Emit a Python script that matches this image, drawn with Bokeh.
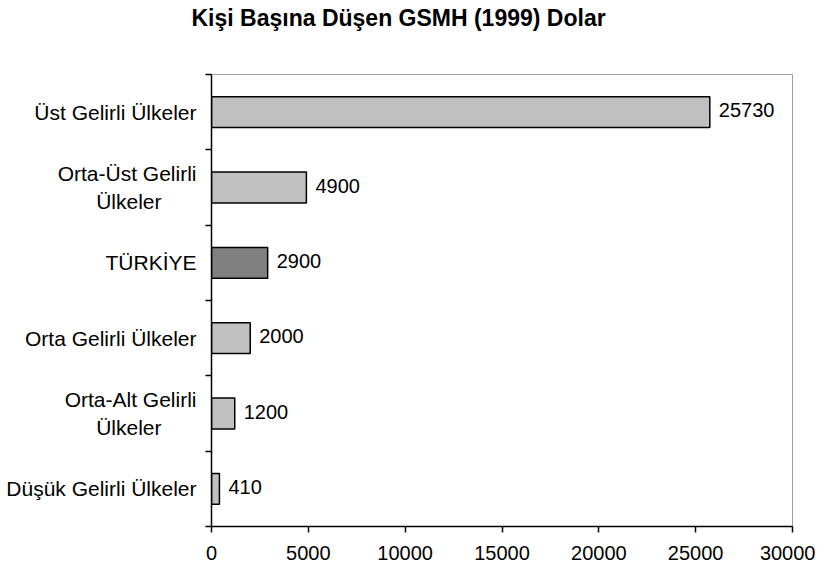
from bokeh.plotting import figure
from bokeh.models import Range1d, FixedTicker, ColumnDataSource, Title
from bokeh.core.properties import value
from bokeh.embed import file_html
from bokeh.resources import INLINE

categories = ["Üst Gelirli Ülkeler", "Orta-Üst Gelirli\nÜlkeler", "TÜRKİYE",
              "Orta Gelirli Ülkeler", "Orta-Alt Gelirli\nÜlkeler", "Düşük Gelirli Ülkeler"]
values = [25730, 4900, 2900, 2000, 1200, 410]
highlight = "TÜRKİYE"
x_ticks = [0, 5000, 10000, 15000, 20000, 25000, 30000]
x_max = 30000
title_text = "Kişi Başına Düşen GSMH (1999) Dolar"

FONT = "Liberation Sans"
NBSP_PAD = "\u00a0" * 6  # centres the short second line under the first


def display_label(c):
    # multi-line labels: centre the second line under the first
    if "\n" in c:
        return c + NBSP_PAD
    return c


n = len(categories)
ypos = [n - i - 0.5 for i in range(n)]
colors = ["#808080" if c == highlight else "#c0c0c0" for c in categories]
src = ColumnDataSource(dict(y=ypos, v=values, c=colors, lbl=[str(v) for v in values]))

p = figure(frame_width=581, frame_height=452,
           min_border_left=211, min_border_right=23, min_border_top=74, min_border_bottom=37,
           x_range=Range1d(0, x_max), y_range=Range1d(0, n),
           output_backend="svg", toolbar_location=None)

p.title = Title(text=title_text, align="left", offset=-20, standoff=0,
                text_font=FONT, text_font_size="23px", text_font_style="bold",
                text_color="black")
# empty spacer between the frame and the title
p.add_layout(Title(text=" ", text_font_size="1px", standoff=41), "above")

p.hbar(y="y", right="v", left=0, height=0.41, fill_color="c", line_color="black",
       line_width=1.5, source=src)
p.text(x="v", y="y", text="lbl", x_offset=9, y_offset=-2, text_baseline="middle", text_align="left",
       text_font=value(FONT), text_font_size="20px", text_color="black", source=src)

p.xgrid.visible = False
p.ygrid.visible = False
p.outline_line_color = "#a0a0a0"
p.outline_line_width = 1
p.background_fill_color = "white"
p.border_fill_color = "white"

xa = p.xaxis[0]
xa.ticker = FixedTicker(ticks=x_ticks)
xa.major_tick_in = 0
xa.major_tick_out = 6
xa.minor_tick_out = 0
xa.minor_tick_in = 0
xa.axis_line_color = "black"
xa.axis_line_width = 1.5
xa.major_tick_line_color = "black"
xa.major_tick_line_width = 1.5
xa.major_label_text_font = FONT
xa.major_label_text_font_size = "20px"
xa.major_label_text_color = "black"
xa.major_label_standoff = 13

ya = p.yaxis[0]
ya.ticker = FixedTicker(ticks=ypos, minor_ticks=list(range(n + 1)))
ya.major_label_overrides = {y: display_label(c) for y, c in zip(ypos, categories)}
ya.major_tick_in = 0
ya.major_tick_out = 0
ya.minor_tick_in = 0
ya.minor_tick_out = 6
ya.minor_tick_line_color = "black"
ya.minor_tick_line_width = 1.5
ya.axis_line_color = "black"
ya.axis_line_width = 1.5
ya.major_label_text_font = FONT
ya.major_label_text_font_size = "21px"
ya.major_label_text_color = "black"
ya.major_label_standoff = 9

open("out.html", "w").write(file_html(p, INLINE))
